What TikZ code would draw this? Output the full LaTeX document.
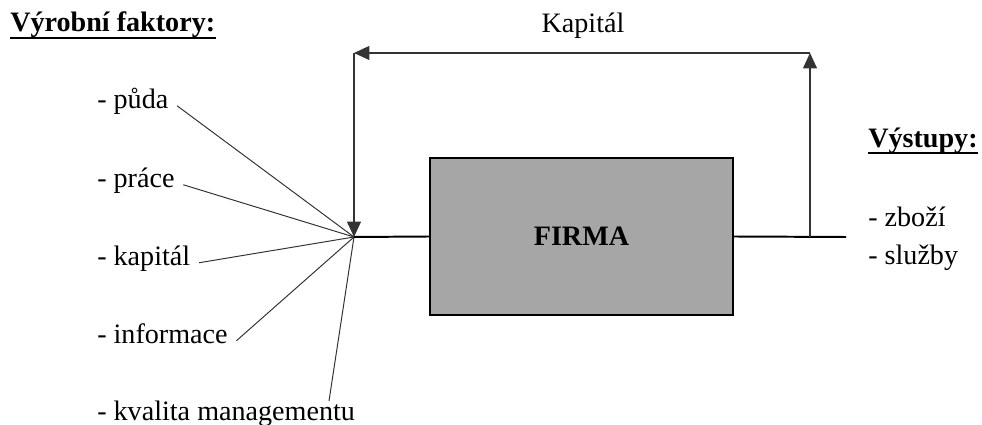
\documentclass[tikz,border=0pt]{standalone}
\usepackage{fontspec}
\setmainfont{Liberation Serif}
\usetikzlibrary{arrows.meta}
\definecolor{boxgray}{HTML}{A6A6A6}
\tikzset{
	label/.style={anchor=base west, inner sep=0pt, font=\fontsize{20}{24}\selectfont},
	heading/.style={label, font=\fontsize{20}{24}\selectfont\bfseries},
	feed/.style={draw=black!80, line width=0.7pt},
	flow/.style={draw=black, line width=1.4pt},
	loop/.style={draw=black!80, line width=0.8pt, -{Triangle[length=11pt,width=10pt]}}
}
\begin{document}
\begin{tikzpicture}[x=0.025cm, y=-0.025cm]
	\useasboundingbox (0,0) rectangle (982,425);

	\node[heading] (vyr) at (10, 32) {Výrobní faktory:};
	\node[heading] (vys) at (868, 148) {Výstupy:};
	\draw[line width=1.4pt] ([yshift=-4pt]vyr.base west) -- ([yshift=-4pt]vyr.base east);
	\draw[line width=1.4pt] ([yshift=-3.5pt]vys.base west) -- ([yshift=-3.5pt]vys.base east);

	\node[label] (puda)  at (97, 109) {- půda};
	\node[label] (prace) at (97, 188) {- práce};
	\node[label] (kap)   at (97, 266) {- kapitál};
	\node[label] (info)  at (97, 344) {- informace};
	\node[label] (mgmt)  at (97, 421) {- kvalita managementu};

	\node[label] (zbozi)  at (868, 227) {- zboží};
	\node[label] (sluzby) at (868, 265) {- služby};

	\node[draw=black, line width=1.4pt, fill=boxgray, minimum width=7.575cm, minimum height=3.925cm,
		font=\fontsize{20}{24}\selectfont\bfseries] (firma) at (581.5, 236.5) {FIRMA};

	\coordinate (hub) at (354, 237);
	\coordinate (tap) at (810, 237);
	\coordinate (out) at (846, 237);
	\coordinate (tr)  at (810, 53);
	\coordinate (tl)  at (354, 53);
	\coordinate (m)   at (329, 401);

	\node[label, anchor=base] (kapital) at (583, 33) {Kapitál};

	\draw[feed] ([xshift=6pt]puda.mid east) -- (hub);
	\draw[feed] ([xshift=6pt]prace.mid east) -- (hub);
	\draw[feed] ([xshift=6pt]kap.mid east) -- (hub);
	\draw[feed] ([xshift=6pt]info.mid east) -- (hub);
	\draw[feed] (m) -- (hub);

	\draw[flow] (hub) -- (firma.west);
	\draw[flow] (firma.east) -- (out);

	\draw[loop] (tap) -- (tr);
	\draw[loop] (tr) -- (tl);
	\draw[loop] (tl) -- (hub);
\end{tikzpicture}
\end{document}
